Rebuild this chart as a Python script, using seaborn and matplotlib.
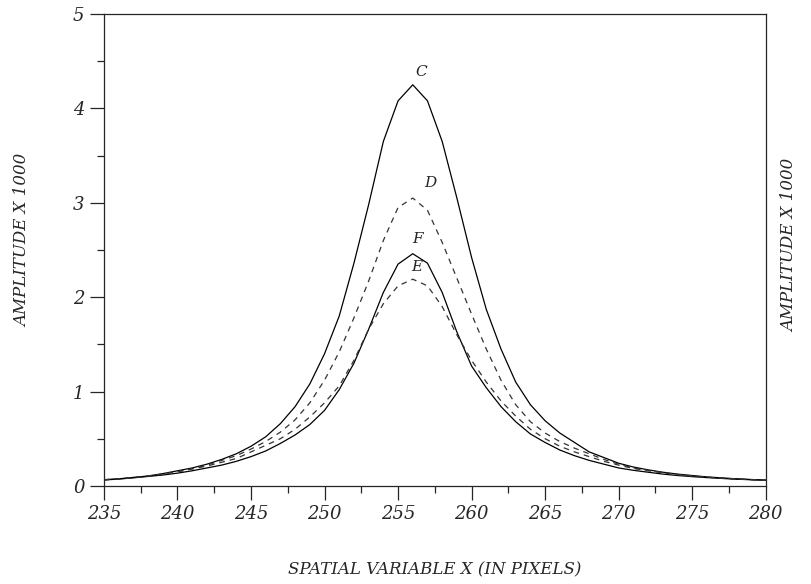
# Amplitude profiles C, D, E, F across the spatial variable
import numpy as np
import pandas as pd
import matplotlib
matplotlib.use('Agg')
import matplotlib.pyplot as plt
from matplotlib.ticker import MultipleLocator
import seaborn as sns

# Pixel positions (x axis)
pixels = list(range(235, 281))

# Amplitude x 1000 at each pixel
curve_c = [0.065, 0.075, 0.09, 0.105, 0.13, 0.16, 0.19, 0.23, 0.28, 0.34, 0.42,
           0.52, 0.66, 0.84, 1.08, 1.40, 1.80, 2.36, 2.98, 3.65, 4.08,
           4.25,
           4.08, 3.65, 3.05, 2.42, 1.87, 1.45, 1.10, 0.86, 0.69, 0.56, 0.46, 0.36,
           0.30, 0.24, 0.20, 0.17, 0.145, 0.125, 0.11, 0.095, 0.085, 0.075, 0.068, 0.06]
curve_d = [0.065, 0.075, 0.088, 0.105, 0.125, 0.15, 0.18, 0.22, 0.27, 0.32, 0.39,
           0.47, 0.57, 0.70, 0.88, 1.12, 1.42, 1.78, 2.17, 2.60, 2.95,
           3.05,
           2.92, 2.58, 2.20, 1.82, 1.45, 1.12, 0.86, 0.68, 0.56, 0.47, 0.40, 0.34,
           0.28, 0.23, 0.19, 0.165, 0.14, 0.12, 0.105, 0.092, 0.082, 0.073, 0.066, 0.06]
curve_e = [0.065, 0.075, 0.088, 0.105, 0.125, 0.15, 0.18, 0.21, 0.25, 0.29, 0.36,
           0.43, 0.50, 0.60, 0.73, 0.88, 1.06, 1.33, 1.66, 1.93, 2.12,
           2.19,
           2.12, 1.90, 1.60, 1.33, 1.10, 0.90, 0.74, 0.60, 0.50, 0.42, 0.36, 0.31,
           0.26, 0.22, 0.185, 0.16, 0.14, 0.12, 0.105, 0.092, 0.082, 0.073, 0.066, 0.06]
curve_f = [0.063, 0.072, 0.085, 0.10, 0.115, 0.135, 0.16, 0.19, 0.22, 0.26, 0.31,
           0.37, 0.45, 0.54, 0.65, 0.80, 1.02, 1.30, 1.66, 2.05, 2.35,
           2.46,
           2.36, 2.05, 1.63, 1.27, 1.04, 0.84, 0.68, 0.55, 0.46, 0.38, 0.32, 0.27,
           0.23, 0.19, 0.165, 0.145, 0.125, 0.11, 0.098, 0.088, 0.079, 0.071, 0.065, 0.06]

# Curve labels and where they sit
labels = ['C', 'D', 'F', 'E']
label_x = [256.6, 257.2, 256.3, 256.3]
label_y = [4.39, 3.21, 2.62, 2.32]

data = pd.DataFrame({'x': pixels, 'C': curve_c, 'D': curve_d,
                     'E': curve_e, 'F': curve_f})

sns.set_style('ticks')
plt.rcParams['font.family'] = ['DejaVu Serif']
plt.rcParams['font.style'] = 'italic'

fig = plt.figure(figsize=(8.12, 5.84), dpi=100)
ax = fig.add_axes([0.128, 0.168, 0.815, 0.808])

sns.lineplot(data=data, x='x', y='C', ax=ax, color='black', linewidth=0.9)
sns.lineplot(data=data, x='x', y='F', ax=ax, color='black', linewidth=0.9)
sns.lineplot(data=data, x='x', y='D', ax=ax, color='#333333', linewidth=0.9,
             linestyle=(0, (4.5, 4)))
sns.lineplot(data=data, x='x', y='E', ax=ax, color='#333333', linewidth=0.9,
             linestyle=(0, (4.5, 4)))

for name, lx, ly in zip(labels, label_x, label_y):
    ax.text(lx, ly, name, ha='center', va='center', fontsize=11)

ax.set_xlim(235, 280)
ax.set_ylim(0, 5)
ax.xaxis.set_major_locator(MultipleLocator(5))
ax.xaxis.set_minor_locator(MultipleLocator(2.5))
ax.yaxis.set_major_locator(MultipleLocator(1))
ax.yaxis.set_minor_locator(MultipleLocator(0.5))
ax.tick_params(which='major', length=10, width=0.9, labelsize=13, pad=4)
ax.tick_params(which='minor', length=5, width=0.9)
for s in ax.spines.values():
    s.set_linewidth(0.9)

ax.set_xlabel('')
ax.set_ylabel('')
fig.text(0.535, 0.025, 'SPATIAL VARIABLE X (IN PIXELS)', ha='center',
         va='center', fontsize=12)
fig.text(0.028, 0.589, 'AMPLITUDE X 1000', ha='center', va='center',
         rotation=90, fontsize=12)
fig.text(0.973, 0.58, 'AMPLITUDE X 1000', ha='center', va='center',
         rotation=90, fontsize=12)

plt.savefig('out.png', dpi=100)
